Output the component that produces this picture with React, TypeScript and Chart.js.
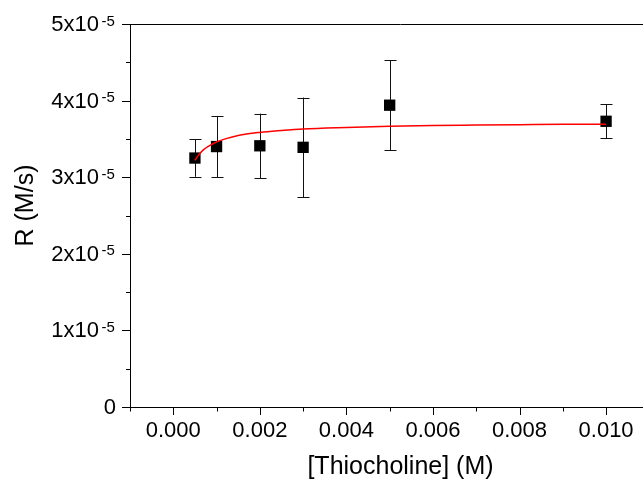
import React, { useEffect, useRef } from "react";
import { Chart, registerables } from "chart.js";

Chart.register(...registerables);

// Measured data
const thiocholine = [0.0005, 0.001, 0.002, 0.003, 0.005, 0.01];
const rate = [3.25e-5, 3.4e-5, 3.41e-5, 3.39e-5, 3.94e-5, 3.73e-5];
const rateError = [0.245e-5, 0.4e-5, 0.42e-5, 0.65e-5, 0.59e-5, 0.22e-5];

// Fitted curve
const fitX = [0.0005, 0.0006, 0.0007, 0.0008, 0.001, 0.0012, 0.0015, 0.002, 0.0025, 0.003, 0.004, 0.005, 0.006, 0.007, 0.008, 0.009, 0.01];
const fitY = [3.22e-5, 3.3e-5, 3.36e-5, 3.4e-5, 3.46e-5, 3.5e-5, 3.545e-5, 3.585e-5, 3.61e-5, 3.63e-5, 3.65e-5, 3.665e-5, 3.675e-5, 3.68e-5, 3.685e-5, 3.69e-5, 3.69e-5];

// Axis ticks
const xMajorTicks = [0, 0.002, 0.004, 0.006, 0.008, 0.01];
const xTickLabels = ["0.000", "0.002", "0.004", "0.006", "0.008", "0.010"];
const xMinorTicks = [-0.001, 0.001, 0.003, 0.005, 0.007, 0.009, 0.011];
const yMajorTicks = [0, 1e-5, 2e-5, 3e-5, 4e-5, 5e-5];
const yTickMantissa = ["0", "1x10", "2x10", "3x10", "4x10", "5x10"];
const yTickExponent = "-5";
const yMinorTicks = [0.5e-5, 1.5e-5, 2.5e-5, 3.5e-5, 4.5e-5];

const FONT = "'Liberation Sans', Arial, sans-serif";

const overlay = {
  id: "overlay",
  beforeDatasetsDraw(chart: any) {
    const ctx = chart.ctx;
    const xs = chart.scales.x;
    const ys = chart.scales.y;
    ctx.save();
    ctx.strokeStyle = "#111";
    ctx.lineWidth = 1;
    thiocholine.forEach((xv, i) => {
      const px = Math.round(xs.getPixelForValue(xv)) + 0.5;
      const top = ys.getPixelForValue(rate[i] + rateError[i]);
      const bot = ys.getPixelForValue(rate[i] - rateError[i]);
      ctx.beginPath();
      ctx.moveTo(px, top);
      ctx.lineTo(px, bot);
      ctx.moveTo(px - 6, Math.round(top) + 0.5);
      ctx.lineTo(px + 6, Math.round(top) + 0.5);
      ctx.moveTo(px - 6, Math.round(bot) + 0.5);
      ctx.lineTo(px + 6, Math.round(bot) + 0.5);
      ctx.stroke();
    });
    ctx.restore();
  },
  afterDraw(chart: any) {
    const ctx = chart.ctx;
    const xs = chart.scales.x;
    const ys = chart.scales.y;
    const area = chart.chartArea;
    ctx.save();
    ctx.strokeStyle = "#000";
    ctx.lineWidth = 1;
    // top frame line
    ctx.beginPath();
    ctx.moveTo(area.left, Math.round(area.top) + 0.5);
    ctx.lineTo(area.right, Math.round(area.top) + 0.5);
    ctx.stroke();
    // x ticks
    const axY = area.bottom;
    ctx.beginPath();
    xMajorTicks.forEach((v) => {
      const px = Math.round(xs.getPixelForValue(v)) + 0.5;
      ctx.moveTo(px, axY);
      ctx.lineTo(px, axY + 8);
    });
    xMinorTicks.forEach((v) => {
      const px = Math.round(xs.getPixelForValue(v)) + 0.5;
      ctx.moveTo(px, axY);
      ctx.lineTo(px, axY + 4.5);
    });
    // y ticks
    const axX = area.left;
    yMajorTicks.forEach((v) => {
      const py = Math.round(ys.getPixelForValue(v)) + 0.5;
      ctx.moveTo(axX, py);
      ctx.lineTo(axX - 8, py);
    });
    yMinorTicks.forEach((v) => {
      const py = Math.round(ys.getPixelForValue(v)) + 0.5;
      ctx.moveTo(axX, py);
      ctx.lineTo(axX - 4, py);
    });
    ctx.stroke();

    ctx.fillStyle = "#000";
    // x labels
    ctx.font = `22px ${FONT}`;
    ctx.textAlign = "center";
    ctx.textBaseline = "middle";
    xMajorTicks.forEach((v, i) => {
      ctx.fillText(xTickLabels[i], xs.getPixelForValue(v), axY + 24);
    });
    // y labels
    yMajorTicks.forEach((v, i) => {
      const py = ys.getPixelForValue(v);
      if (v === 0) {
        ctx.font = `22px ${FONT}`;
        ctx.textAlign = "right";
        ctx.textBaseline = "middle";
        ctx.fillText(yTickMantissa[i], axX - 14, py + 1);
      } else {
        ctx.font = `22px ${FONT}`;
        ctx.textAlign = "right";
        ctx.textBaseline = "middle";
        ctx.fillText(yTickMantissa[i], axX - 31, py + 1);
        ctx.font = `15px ${FONT}`;
        ctx.textAlign = "left";
        ctx.fillText(yTickExponent, axX - 28.5, py - 2.5);
      }
    });
    // titles
    ctx.font = `25px ${FONT}`;
    ctx.textAlign = "center";
    ctx.textBaseline = "middle";
    ctx.fillText("[Thiocholine] (M)", (area.left + area.right) / 2, axY + 60);
    ctx.translate(26, (area.top + area.bottom) / 2 - 10);
    ctx.rotate(-Math.PI / 2);
    ctx.fillText("R (M/s)", 0, 0);
    ctx.restore();
  },
};

export default function App() {
  const ref = useRef<HTMLCanvasElement>(null);
  useEffect(() => {
    if (!ref.current) return;
    const chart = new Chart(ref.current, {
      type: "scatter",
      data: {
        datasets: [
          {
            label: "fit",
            data: fitX.map((x, i) => ({ x, y: fitY[i] })),
            showLine: true,
            borderColor: "#ff0000",
            borderWidth: 1.5,
            pointRadius: 0,
            fill: false,
            cubicInterpolationMode: "monotone",
          } as any,
          {
            label: "R",
            data: thiocholine.map((x, i) => ({ x, y: rate[i] })),
            pointStyle: "rect",
            pointRadius: 8,
            backgroundColor: "#000",
            borderColor: "#000",
            borderWidth: 0,
          },
        ],
      },
      options: {
        responsive: false,
        devicePixelRatio: 1,
        animation: false,
        layout: { autoPadding: false, padding: { top: 24, right: 0, left: 0, bottom: 0 } },
        plugins: { legend: { display: false }, tooltip: { enabled: false } },
        scales: {
          x: {
            type: "linear",
            min: -0.001,
            max: 0.0115,
            ticks: { display: false },
            grid: { display: false },
            border: { display: true, color: "#000", width: 1 },
            afterFit: (s: any) => {
              s.height = 73;
            },
          },
          y: {
            type: "linear",
            min: 0,
            max: 5e-5,
            ticks: { display: false },
            grid: { display: false },
            border: { display: true, color: "#000", width: 1 },
            afterFit: (s: any) => {
              s.width = 130;
            },
          },
        },
      },
      plugins: [overlay],
    } as any);
    return () => chart.destroy();
  }, []);
  return (
    <div
      style={{
        position: "absolute",
        left: 0,
        top: 0,
        width: 643,
        height: 480,
        overflow: "hidden",
        background: "#fff",
      }}
    >
      <canvas ref={ref} width={671} height={480} style={{ display: "block", width: 671, height: 480 }} />
    </div>
  );
}
